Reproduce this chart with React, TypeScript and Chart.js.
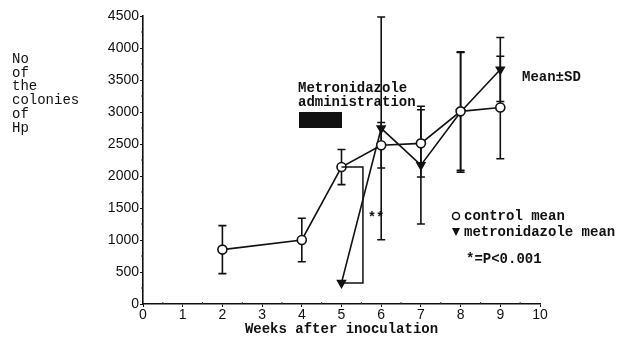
import React, { useEffect, useRef } from "react";
import { Chart, registerables } from "chart.js";

Chart.register(...registerables);

const weeksControl = [2, 4, 5, 6, 7, 8, 9];
const controlMean = [850, 1000, 2140, 2480, 2510, 3010, 3070];
const controlSD = [375, 340, 275, 355, 525, 920, 800];

const weeksMetro = [5, 6, 7, 8, 9];
const metroMean = [330, 2745, 2170, 3000, 3665];
const metroSD = [0, 1740, 920, 940, 500];

const bracketX = [5, 5.54, 5.54, 5.05];
const bracketY = [2140, 2140, 330, 330];

const yTicks = [0, 500, 1000, 1500, 2000, 2500, 3000, 3500, 4000, 4500];
const yLabelLines = ["No", "of", "the", "colonies", "of", "Hp"];

const MONO = "'Liberation Mono', 'DejaVu Sans Mono', monospace";
const SANS = "'Liberation Sans', Arial, sans-serif";

const errorBars = {
  id: "errorBars",
  beforeDatasetsDraw(chart: any) {
    const ctx = chart.ctx;
    const xs = chart.scales.x;
    const ys = chart.scales.y;
    const sets = [
      { w: weeksControl, m: controlMean, s: controlSD },
      { w: weeksMetro, m: metroMean, s: metroSD },
    ];
    ctx.save();
    ctx.strokeStyle = "#111";
    ctx.lineWidth = 1.6;
    sets.forEach((set) => {
      set.w.forEach((wk, i) => {
        const sd = set.s[i];
        if (!sd) return;
        const px = xs.getPixelForValue(wk);
        const top = ys.getPixelForValue(set.m[i] + sd);
        const bot = ys.getPixelForValue(set.m[i] - sd);
        ctx.beginPath();
        ctx.moveTo(px, top);
        ctx.lineTo(px, bot);
        ctx.moveTo(px - 4, top);
        ctx.lineTo(px + 4, top);
        ctx.moveTo(px - 4, bot);
        ctx.lineTo(px + 4, bot);
        ctx.stroke();
      });
    });
    ctx.restore();
  },
};

const extras = {
  id: "extras",
  afterDraw(chart: any) {
    const ctx = chart.ctx;
    const xs = chart.scales.x;
    const ys = chart.scales.y;
    const area = chart.chartArea;
    ctx.save();
    ctx.strokeStyle = "#333";
    ctx.lineWidth = 1;
    ctx.beginPath();
    for (let v = 0.5; v < 10; v += 1) {
      const px = xs.getPixelForValue(v);
      ctx.moveTo(px, area.bottom);
      ctx.lineTo(px, area.bottom - 2);
    }
    for (let v = 250; v < 4500; v += 500) {
      const py = ys.getPixelForValue(v);
      ctx.moveTo(area.left, py);
      ctx.lineTo(area.left - 2, py);
    }
    ctx.stroke();

    ctx.fillStyle = "#111";
    ctx.strokeStyle = "#111";
    ctx.textBaseline = "alphabetic";
    ctx.textAlign = "left";
    ctx.font = `14px ${MONO}`;
    yLabelLines.forEach((t, i) => {
      ctx.fillText(t, 12, 63 + i * 13.7);
    });

    ctx.font = `bold 14px ${MONO}`;
    ctx.textBaseline = "middle";
    ctx.fillText("Metronidazole", 298, 88);
    ctx.fillText("administration", 298, 102);
    ctx.fillRect(299, 112, 43, 16);

    ctx.fillText("Mean\u00b1SD", 522, 77);

    ctx.fillText("**", xs.getPixelForValue(5.66), ys.getPixelForValue(1330));

    const lx = 456;
    ctx.beginPath();
    ctx.lineWidth = 1.5;
    ctx.arc(lx, 216, 3.5, 0, Math.PI * 2);
    ctx.stroke();
    ctx.beginPath();
    ctx.moveTo(lx - 4, 228);
    ctx.lineTo(lx + 4, 228);
    ctx.lineTo(lx, 236);
    ctx.closePath();
    ctx.fill();
    ctx.fillText("control mean", 464, 216);
    ctx.fillText("metronidazole mean", 464, 232);
    ctx.fillText("*=P<0.001", 466, 259);
    ctx.restore();
  },
};

export default function App() {
  const ref = useRef<HTMLCanvasElement>(null);
  useEffect(() => {
    if (!ref.current) return;
    const chart = new Chart(ref.current, {
      type: "line",
      data: {
        datasets: [
          {
            label: "bracket",
            data: bracketX.map((x, i) => ({ x, y: bracketY[i] })),
            borderColor: "#111",
            borderWidth: 1.5,
            pointRadius: 0,
            tension: 0,
          },
          {
            label: "control mean",
            data: weeksControl.map((x, i) => ({ x, y: controlMean[i] })),
            borderColor: "#111",
            borderWidth: 1.6,
            pointStyle: "circle",
            pointRadius: 4.5,
            pointBackgroundColor: "#fff",
            pointBorderColor: "#111",
            pointBorderWidth: 1.6,
            tension: 0,
          },
          {
            label: "metronidazole mean",
            data: weeksMetro.map((x, i) => ({ x, y: metroMean[i] })),
            borderColor: "#111",
            borderWidth: 1.6,
            pointStyle: "triangle",
            pointRotation: 180,
            pointRadius: 4.5,
            pointBackgroundColor: "#111",
            pointBorderColor: "#111",
            tension: 0,
          },
        ],
      },
      options: {
        animation: false,
        responsive: false,
        layout: { padding: { top: 16, right: 90, left: 0, bottom: 0 } },
        plugins: { legend: { display: false }, tooltip: { enabled: false } },
        scales: {
          x: {
            type: "linear",
            min: 0,
            max: 10,
            afterFit: (s: any) => {
              s.height = 34;
            },
            ticks: {
              stepSize: 1,
              padding: 0,
              color: "#111",
              font: { family: SANS, size: 14 },
            },
            grid: { drawOnChartArea: false, tickLength: 3, color: "#111" },
            border: { color: "#111", width: 1.6 },
            title: {
              display: true,
              text: "Weeks after inoculation",
              color: "#111",
              font: { family: MONO, size: 14, weight: "bold" },
              padding: 0,
            },
          },
          y: {
            min: 0,
            max: 4500,
            afterFit: (s: any) => {
              s.width = 143;
            },
            afterBuildTicks: (s: any) => {
              s.ticks = yTicks.map((v) => ({ value: v }));
            },
            ticks: {
              padding: 1,
              color: "#111",
              font: { family: SANS, size: 14 },
              callback: (v: any) => String(v),
            },
            grid: { drawOnChartArea: false, tickLength: 3, color: "#111" },
            border: { color: "#111", width: 1.6 },
          },
        },
      },
      plugins: [errorBars, extras],
    });
    return () => chart.destroy();
  }, []);
  return (
    <div style={{ position: "absolute", left: 0, top: 0, width: 630, height: 338, background: "#fff" }}>
      <canvas ref={ref} width={630} height={338} />
    </div>
  );
}
